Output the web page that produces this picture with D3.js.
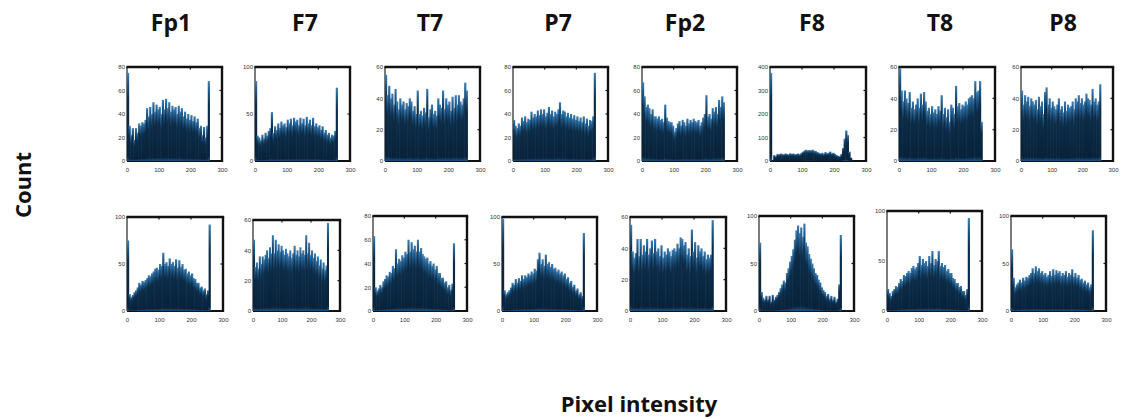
<!DOCTYPE html>
<html><head><meta charset="utf-8">
<script src="https://cdn.jsdelivr.net/npm/d3@7"></script>
<style>
html,body{margin:0;padding:0;background:#fff;}
svg{display:block;}
</style></head>
<body>
<svg id="chart" width="1121" height="419"></svg>
<script>
// ---------------- DATA ----------------
const channels = ["Fp1","F7","T7","P7","Fp2","F8","T8","P8"];
const binWidth = 5; // pixel-intensity bins: [0,5), [5,10), ... , [255,260)
const xTicks = [0,100,200,300];
const yMaxRow1 = [80,100,60,80,80,400,60,60];
const yStepRow1 = [20,50,20,20,20,100,20,20];
const yMaxRow2 = [100,60,80,100,60,100,100,100];
const yStepRow2 = [50,20,20,50,20,50,50,50];

const countsRow1Fp1 = [75,30,22,28,18,28,24,32,30,33,32,35,45,38,46,40,50,42,48,44,46,40,52,44,53,45,50,42,47,44,46,40,47,42,45,38,42,36,40,35,39,34,38,33,36,28,30,22,29,20,30,68];
const countsRow1F7  = [85,27,25,22,28,24,30,27,32,35,52,30,37,33,40,35,42,38,40,36,44,40,45,38,46,42,44,38,46,40,45,38,47,40,44,38,46,37,40,36,38,33,37,30,33,28,30,25,28,27,32,78];
const countsRow1T7  = [55,42,48,40,43,36,46,38,33,40,36,38,33,37,35,40,38,32,35,30,45,30,32,29,34,31,46,28,33,36,30,32,29,40,36,34,45,33,40,36,38,32,41,34,42,36,42,38,36,40,50,45];
const countsRow1P7  = [35,30,28,32,30,37,34,38,33,36,35,42,37,40,38,43,39,44,40,44,38,41,46,40,43,38,42,40,44,50,40,43,42,38,41,37,40,36,39,35,38,34,37,33,38,32,36,30,35,34,38,75];
const countsRow1Fp2 = [67,55,46,48,45,40,44,38,38,36,38,35,36,33,48,37,34,33,33,30,25,28,32,34,30,35,33,30,36,32,35,33,36,34,33,35,30,33,37,40,56,38,40,36,45,42,46,40,52,46,55,50];
const countsRow1F8  = [375,5,25,20,30,28,32,30,28,32,30,28,33,30,32,28,30,32,28,35,40,45,48,45,47,45,48,44,42,38,35,32,35,30,38,33,35,40,33,35,30,25,22,20,30,55,95,130,110,40,15,5];
const countsRow1T8  = [59,45,38,45,40,37,44,34,38,33,36,40,34,43,36,44,38,32,34,30,35,31,33,30,35,32,42,30,34,28,33,25,36,34,30,48,35,37,33,36,35,38,36,40,41,42,40,51,44,45,51,25];
const countsRow1P8  = [45,36,42,38,41,35,40,38,36,39,33,41,35,38,30,44,47,36,40,34,38,35,33,36,40,33,35,31,38,32,36,34,35,38,33,40,38,42,37,40,36,38,43,40,39,36,46,38,40,36,38,49];

const countsRow2Fp1 = [75,18,15,17,20,22,25,30,28,32,31,33,35,38,37,40,42,45,46,44,50,48,62,50,52,48,56,50,52,48,55,46,54,47,50,44,45,40,42,38,40,35,34,30,30,25,26,22,24,18,22,92];
const countsRow2F7  = [47,29,32,28,36,31,36,34,37,40,35,42,38,50,38,47,40,44,39,43,40,37,41,38,36,40,35,38,43,37,40,36,42,38,40,37,50,38,45,37,40,35,38,33,36,30,34,28,32,27,30,58];
const countsRow2T7  = [63,20,17,19,22,20,25,27,30,29,33,32,38,36,52,40,44,42,47,45,50,48,60,50,58,52,55,50,60,50,53,48,46,44,45,40,42,38,40,35,38,32,32,28,28,24,25,20,22,18,23,57];
const countsRow2P7  = [98,22,18,20,22,25,30,28,34,30,35,32,38,34,38,36,40,38,42,40,45,43,55,62,50,55,48,60,50,52,47,50,45,46,42,44,40,42,38,40,34,36,30,32,26,28,22,24,18,20,16,83];
const countsRow2Fp2 = [55,38,34,37,46,35,46,36,42,38,46,36,40,45,37,46,38,40,35,42,34,38,36,40,38,35,39,40,38,43,40,47,46,42,44,36,40,35,52,38,44,34,42,38,40,35,38,33,36,34,36,58];
const countsRow2F8  = [72,20,14,12,16,12,16,10,17,12,15,17,20,24,28,32,30,40,45,52,58,65,75,85,90,82,88,78,92,72,68,60,55,50,45,40,38,33,30,25,22,20,16,18,13,16,12,15,10,13,28,80];
const countsRow2T8  = [22,18,15,20,22,25,24,28,32,30,36,35,38,40,38,43,45,42,44,48,55,46,52,48,50,45,55,48,60,46,52,50,60,45,48,44,46,40,42,38,38,33,32,28,28,24,25,20,20,16,22,93];
const countsRow2P8  = [65,35,25,28,30,33,30,35,32,36,35,38,40,45,40,47,42,45,40,42,38,40,36,38,42,37,44,38,43,40,42,37,40,38,42,36,40,38,44,36,40,35,38,33,34,30,32,28,30,25,28,85];

const countsRow1 = [countsRow1Fp1,countsRow1F7,countsRow1T7,countsRow1P7,countsRow1Fp2,countsRow1F8,countsRow1T8,countsRow1P8];
const countsRow2 = [countsRow2Fp1,countsRow2F7,countsRow2T7,countsRow2P7,countsRow2Fp2,countsRow2F8,countsRow2T8,countsRow2P8];

// ---------------- LAYOUT (not data) ----------------
const layout = {
  titleX: [171,305,430,558,685,812,940,1063],
  titleY: 31,
  row1: { left:[127,255,385,513,642,770,899,1021], right:[222,350,480,608,737,866,995,1113], top:[67,67,67,67,67,67,67,67], bottom:161 },
  row2: { left:[127,253,373,502,630,759,887,1011], right:[223,340,467,597,726,854,982,1106], top:[217,220,216,217,217,216,211,216], bottom:311 }
};

const svg = d3.select("#chart");
const defs = svg.append("defs");
const grad = defs.append("linearGradient").attr("id","barGrad")
  .attr("x1",0).attr("y1",0).attr("x2",0).attr("y2",1);
grad.append("stop").attr("offset","0%").attr("stop-color","#3f7fb5");
grad.append("stop").attr("offset","12%").attr("stop-color","#1f5886");
grad.append("stop").attr("offset","30%").attr("stop-color","#0c2c48");
grad.append("stop").attr("offset","94%").attr("stop-color","#08223a");
grad.append("stop").attr("offset","100%").attr("stop-color","#1b5584");

// Titles
svg.selectAll("text.title").data(channels).enter().append("text")
  .attr("class","title")
  .attr("x",(d,i)=>layout.titleX[i]).attr("y",layout.titleY)
  .attr("text-anchor","middle")
  .style("font-family","'Open Sans', 'DejaVu Sans', sans-serif")
  .style("font-weight","700").style("font-size","23px").style("fill","#111")
  .text(d=>d);

function drawPanel(rowLayout, i, counts, yMax, yStep){
  const L = rowLayout.left[i], R = rowLayout.right[i], T = rowLayout.top[i], B = rowLayout.bottom;
  const x = d3.scaleLinear().domain([0,300]).range([L,R]);
  const y = d3.scaleLinear().domain([0,yMax]).range([B,T]);
  const g = svg.append("g");
  const yTicks = d3.range(0, yMax + 0.001, yStep);

  // frame (left + bottom under bars)
  g.append("line").attr("x1",L).attr("x2",L).attr("y1",T).attr("y2",B).attr("stroke","#222").attr("stroke-width",1.2);
  g.append("line").attr("x1",L).attr("x2",R).attr("y1",B).attr("y2",B).attr("stroke","#111").attr("stroke-width",2);

  // bars
  g.selectAll("rect.bar").data(counts).enter().append("rect")
    .attr("class","bar")
    .attr("x",(d,k)=>x(k*binWidth))
    .attr("width",(d,k)=>x((k+1)*binWidth)-x(k*binWidth)+0.6)
    .attr("y",d=>y(Math.min(d,yMax)))
    .attr("height",d=>B - y(Math.min(d,yMax)))
    .attr("fill","url(#barGrad)");

  // top / right frame
  g.append("line").attr("x1",L-0.6).attr("x2",R+1.2).attr("y1",T).attr("y2",T).attr("stroke","#111").attr("stroke-width",2.4);
  g.append("line").attr("x1",R).attr("x2",R).attr("y1",T).attr("y2",B+1).attr("stroke","#111").attr("stroke-width",2.4);

  // inward tick marks (top and right mirror)
  xTicks.slice(1,-1).forEach(t=>{
    g.append("line").attr("x1",x(t)).attr("x2",x(t)).attr("y1",T).attr("y2",T+2.5).attr("stroke","#111").attr("stroke-width",1.2);
  });
  yTicks.slice(1,-1).forEach(t=>{
    g.append("line").attr("x1",R).attr("x2",R-2.5).attr("y1",y(t)).attr("y2",y(t)).attr("stroke","#111").attr("stroke-width",1.2);
  });

  // tick labels via axes
  const xAxis = d3.axisBottom(x).tickValues(xTicks).tickSize(0).tickPadding(7);
  const yAxis = d3.axisLeft(y).tickValues(yTicks).tickSize(0).tickPadding(2);
  const gx = g.append("g").attr("transform",`translate(0,${B})`).call(xAxis);
  const gy = g.append("g").attr("transform",`translate(${L},0)`).call(yAxis);
  [gx,gy].forEach(a=>{
    a.select(".domain").remove();
    a.selectAll("text").style("font-family","'Liberation Sans', Arial, sans-serif")
      .style("font-size","6px").style("fill","#333");
  });
}

channels.forEach((c,i)=>{
  drawPanel(layout.row1, i, countsRow1[i], yMaxRow1[i], yStepRow1[i]);
  drawPanel(layout.row2, i, countsRow2[i], yMaxRow2[i], yStepRow2[i]);
});

// Axis titles
svg.append("text").attr("transform","translate(31,185) rotate(-90)")
  .attr("text-anchor","middle")
  .style("font-family","'Open Sans', 'DejaVu Sans', sans-serif")
  .style("font-weight","700").style("font-size","22px").style("fill","#111")
  .text("Count");
svg.append("text").attr("x",639).attr("y",412)
  .attr("text-anchor","middle")
  .style("font-family","'Open Sans', 'DejaVu Sans', sans-serif")
  .style("font-weight","700").style("font-size","22px").style("fill","#111")
  .text("Pixel intensity");
</script>
</body></html>
